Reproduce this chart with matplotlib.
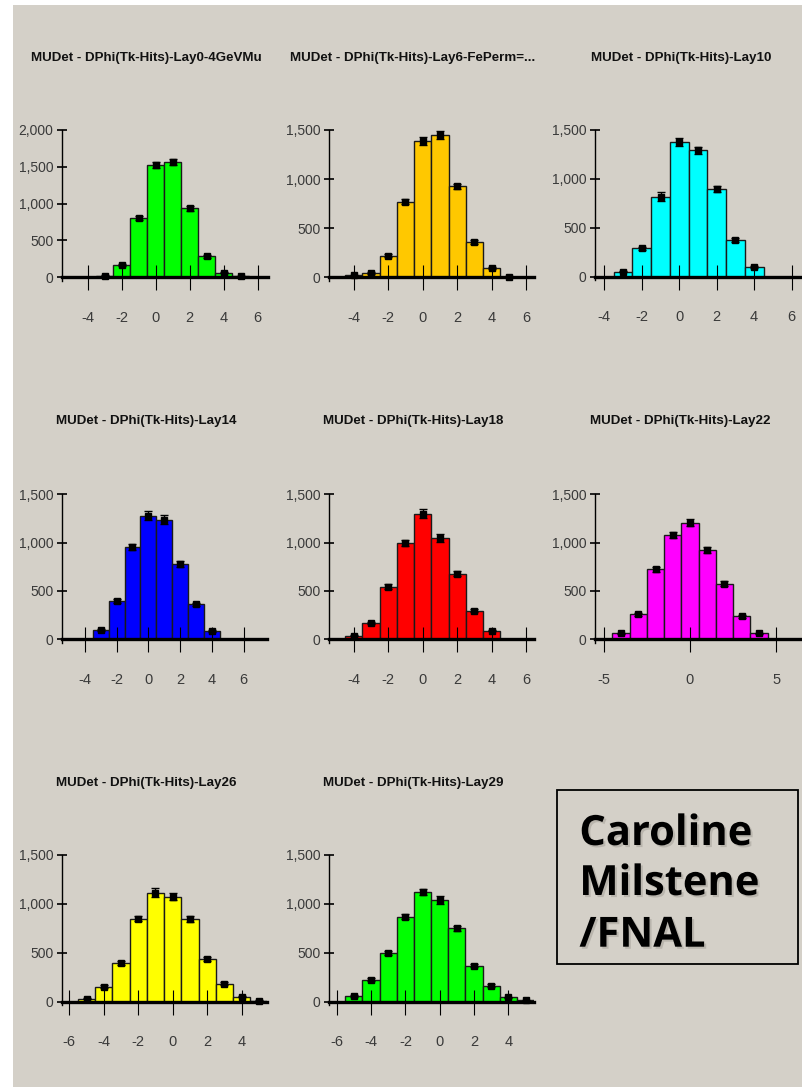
import numpy as np
import matplotlib
matplotlib.use("Agg")
import matplotlib.pyplot as plt
from matplotlib.patches import Rectangle
from matplotlib.ticker import FuncFormatter
import matplotlib.patheffects as pe

plt.rcParams['axes.unicode_minus'] = False

# histogram data (bins of width 1, first bin centre given)
titles = ["MUDet - DPhi(Tk-Hits)-Lay0-4GeVMu", "MUDet - DPhi(Tk-Hits)-Lay6-FePerm=...",
          "MUDet - DPhi(Tk-Hits)-Lay10", "MUDet - DPhi(Tk-Hits)-Lay14",
          "MUDet - DPhi(Tk-Hits)-Lay18", "MUDet - DPhi(Tk-Hits)-Lay22",
          "MUDet - DPhi(Tk-Hits)-Lay26", "MUDet - DPhi(Tk-Hits)-Lay29"]
colors = ["#00ff00", "#ffc800", "#00ffff", "#0000ff", "#ff0000", "#ff00ff", "#ffff00", "#00ff00"]
first_bin = [-3, -4, -3, -3, -4, -4, -5, -5]

counts_lay0 = [20, 165, 800, 1525, 1560, 935, 285, 65, 20]
err_lay0 = [5, 13, 28, 39, 40, 31, 17, 8, 4]
counts_lay6 = [20, 45, 220, 770, 1385, 1445, 925, 360, 95, 8]
err_lay6 = [4, 7, 15, 28, 42, 40, 30, 19, 10, 3]
counts_lay10 = [50, 290, 820, 1375, 1295, 900, 375, 95]
err_lay10 = [7, 17, 45, 40, 36, 30, 19, 10]
counts_lay14 = [95, 400, 950, 1280, 1235, 780, 360, 90]
err_lay14 = [10, 20, 31, 48, 46, 28, 19, 10]
counts_lay18 = [35, 170, 545, 1000, 1300, 1050, 680, 295, 90]
err_lay18 = [6, 13, 23, 32, 45, 42, 26, 17, 9]
counts_lay22 = [60, 260, 725, 1080, 1205, 925, 575, 240, 60]
err_lay22 = [8, 16, 27, 33, 35, 30, 24, 15, 8]
counts_lay26 = [30, 155, 400, 850, 1115, 1075, 845, 440, 185, 50, 10]
err_lay26 = [5, 12, 20, 29, 45, 33, 29, 21, 14, 7, 3]
counts_lay29 = [60, 225, 500, 870, 1120, 1040, 750, 370, 165, 45, 15]
err_lay29 = [8, 15, 22, 29, 33, 45, 27, 19, 13, 7, 4]

counts = [counts_lay0, counts_lay6, counts_lay10, counts_lay14,
          counts_lay18, counts_lay22, counts_lay26, counts_lay29]
errors = [err_lay0, err_lay6, err_lay10, err_lay14,
          err_lay18, err_lay22, err_lay26, err_lay29]

y_max = [2000, 1500, 1500, 1500, 1500, 1500, 1500, 1500]
x_ticks = [[-4, -2, 0, 2, 4, 6]] * 6
x_ticks[5] = [-5, 0, 5]
x_ticks += [[-6, -4, -2, 0, 2, 4]] * 2

# layout in pixels: left, right, y of zero, y of top tick, xlim, title centre
W, H = 803, 1087
layout = [
    (61.7, 268, 277.3, 130, (-5.53, 6.6), (146, 58)),
    (329, 534, 277.3, 130, (-5.44, 6.46), (413, 58)),
    (595, 801, 276.7, 130, (-4.5, 6.5), (681, 58)),
    (61.7, 267.3, 639.3, 494.3, (-5.45, 7.48), (146, 421)),
    (329, 534, 639.3, 494.3, (-5.44, 6.46), (413, 421)),
    (595, 801.7, 639.3, 494.3, (-5.51, 6.48), (680, 421)),
    (61.7, 267.3, 1001.7, 855, (-6.44, 5.49), (146, 783)),
    (329, 534, 1001.7, 855, (-6.45, 5.49), (413, 783)),
]

bg = "#d4d0c8"
narrow = ['Liberation Sans', 'DejaVu Sans']

fig = plt.figure(figsize=(W / 100, H / 100), dpi=100)
fig.patch.set_facecolor("white")
fig.patches.append(Rectangle((13 / W, 0), 1 - 13 / W, 1 - 5 / H, transform=fig.transFigure,
                             facecolor=bg, edgecolor="none", zorder=-10))

for i in range(8):
    left, right, y0, ytop, xlim, tpos = layout[i]
    ymax = y_max[i]
    below = 0.04
    bottom = y0 + below * (y0 - ytop)
    ax = fig.add_axes([left / W, 1 - bottom / H, (right - left) / W, (bottom - ytop) / H])
    ax.patch.set_visible(False)

    x = np.arange(first_bin[i], first_bin[i] + len(counts[i]))
    ax.bar(x, counts[i], width=1, color=colors[i], edgecolor="#1a1a1a", linewidth=1)
    ax.errorbar(x, counts[i], yerr=errors[i], fmt='s', color='black', ms=4.8,
                elinewidth=1, capsize=3, capthick=1, zorder=5)

    ax.set_xlim(*xlim)
    ax.set_ylim(-below * ymax, ymax)
    ax.set_xticks(x_ticks[i])
    ax.set_yticks(np.arange(0, ymax + 1, 500))
    ax.xaxis.set_major_formatter(FuncFormatter(lambda v, p: "%d" % v))
    ax.yaxis.set_major_formatter(FuncFormatter(lambda v, p: "{:,.0f}".format(v)))

    for s in ["top", "right"]:
        ax.spines[s].set_visible(False)
    ax.spines["bottom"].set_position(("data", 0))
    ax.spines["bottom"].set_linewidth(2.4)
    ax.spines["left"].set_linewidth(1)
    ax.spines["left"].set_bounds(-below * ymax * 0.6, ymax)

    ax.tick_params(axis="x", direction="inout", length=18, width=0.8, pad=15,
                   labelsize=10.5, labelcolor="#3a3a3a")
    ax.tick_params(axis="y", direction="inout", length=7, width=1.2, pad=2.5,
                   labelsize=10, labelcolor="#3a3a3a")
    for lab in ax.get_xticklabels() + ax.get_yticklabels():
        lab.set_family(narrow)

    fig.text(tpos[0] / W, 1 - tpos[1] / H, titles[i], ha="center", va="center",
             family=narrow, fontweight="bold", fontsize=9.6, color="#111111")

# author box
fig.patches.append(Rectangle((557 / W, 1 - 964 / H), (797.7 - 557) / W, (964 - 790) / H,
                             transform=fig.transFigure, facecolor="none",
                             edgecolor="black", linewidth=1.3))
shadow = [pe.SimplePatchShadow(offset=(1.5, -1.5), shadow_rgbFace="#a8a49c", alpha=0.6),
          pe.Normal()]
for line, yb in zip(["Caroline", "Milstene", "/FNAL"], [845, 895, 946.7]):
    fig.text(579.3 / W, 1 - yb / H, line, ha="left", va="baseline",
             family=["Open Sans", "DejaVu Sans"], fontweight="bold", fontsize=30,
             color="black", path_effects=shadow)

fig.savefig("out.png", dpi=100, facecolor=fig.get_facecolor())
